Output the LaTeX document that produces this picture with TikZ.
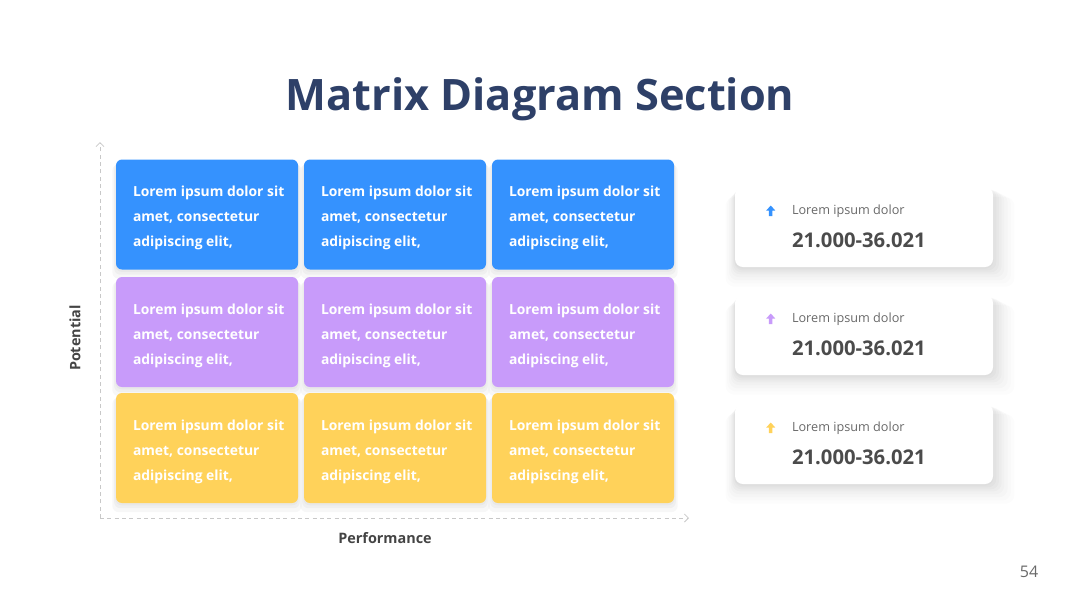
\documentclass[tikz,border=0pt]{standalone}
\usepackage{fontspec}
\setmainfont{Open Sans}
\usetikzlibrary{arrows.meta,shadows,calc}
\definecolor{cblue}{RGB}{53,146,254}
\definecolor{cpurple}{RGB}{200,155,250}
\definecolor{cyellow}{RGB}{255,210,90}
\definecolor{navy}{RGB}{46,64,104}
\definecolor{axisgray}{RGB}{200,200,200}
\definecolor{labgray}{RGB}{68,68,68}
\definecolor{cardlab}{RGB}{105,105,105}
\definecolor{cardnum}{RGB}{75,75,75}
\begin{document}
\begin{tikzpicture}[x=0.75pt,y=-0.75pt,
  cell/.style={rounded corners=4.5pt, minimum width=136.5pt, minimum height=82.5pt, inner sep=0pt,
    general shadow={fill=black, opacity=0.03, shadow yshift=-5pt, shadow scale=1.04},
    general shadow={fill=black, opacity=0.03, shadow yshift=-3pt, shadow scale=1.02},
    general shadow={fill=black, opacity=0.03, shadow yshift=-1.5pt, shadow scale=1.005}},
  celltext/.style={anchor=west, align=left, text=white, inner sep=0pt,
    font=\fontsize{10.4pt}{18.75pt}\selectfont\bfseries},
  card/.style={fill=white, rounded corners=6pt, minimum width=193.5pt, minimum height=60pt, inner sep=0pt,
    general shadow={fill=black, opacity=0.010, shadow xshift=4pt, shadow yshift=-10pt, shadow scale=1.12},
    general shadow={fill=black, opacity=0.012, shadow xshift=3.5pt, shadow yshift=-8.5pt, shadow scale=1.10},
    general shadow={fill=black, opacity=0.014, shadow xshift=3pt, shadow yshift=-7pt, shadow scale=1.08},
    general shadow={fill=black, opacity=0.016, shadow xshift=2.5pt, shadow yshift=-5.5pt, shadow scale=1.06},
    general shadow={fill=black, opacity=0.018, shadow xshift=2pt, shadow yshift=-4pt, shadow scale=1.045},
    general shadow={fill=black, opacity=0.02, shadow xshift=1.5pt, shadow yshift=-3pt, shadow scale=1.03},
    general shadow={fill=black, opacity=0.02, shadow xshift=1pt, shadow yshift=-2pt, shadow scale=1.015},
    general shadow={fill=black, opacity=0.02, shadow xshift=0pt, shadow yshift=-1pt, shadow scale=1.005}},
  cardlabel/.style={anchor=west, inner sep=0pt, text=cardlab, font=\fontsize{9.5pt}{11pt}\selectfont},
  cardnumber/.style={anchor=west, inner sep=0pt, text=cardnum, font=\fontsize{15.2pt}{17pt}\selectfont\bfseries},
  axis/.style={draw=axisgray, line width=0.6pt, dash pattern=on 3pt off 2.5pt, -{Straight Barb[length=3pt,width=6pt]}},
  axislabel/.style={inner sep=0pt, text=labgray, font=\fontsize{10.8pt}{13pt}\selectfont\bfseries}
]
\useasboundingbox (0,0) rectangle (1080,608);

% title
\node[text=navy, font=\fontsize{32.5pt}{40pt}\selectfont\bfseries] (title) at (540,99) {Matrix Diagram Section};

% axes
\coordinate (o) at (100,518);
\coordinate (ytop) at (100,142);
\coordinate (xend) at (689,518);
\draw[axis] (o) -- (ytop);
\draw[axis] (o) -- (xend);
\node[axislabel, rotate=90] (ylab) at (75,338) {Potential};
\node[axislabel] (xlab) at (385,538) {Performance};

% cells
\foreach \r/\y/\col in {1/214.5/cblue, 2/332/cpurple, 3/448/cyellow}{
  \foreach \c/\x in {1/207, 2/395, 3/583}{
    \node[cell, fill=\col] (c\r\c) at (\x,\y) {};
    \node[celltext] (t\r\c) at ([xshift=12.75pt, yshift=-2.7pt]c\r\c.west) {Lorem ipsum dolor sit\\amet, consectetur\\adipiscing elit,};
  }
}

% cards
\foreach \i/\y/\col in {1/227/cblue, 2/335/cpurple, 3/444/cyellow}{
  \node[card] (k\i) at (864,\y) {};
  \coordinate (a\i) at ($(k\i.west)+(36,-16)$);
  \fill[\col] (a\i) ++(0,-5.5) -- ++(4.5,5) -- ++(-2.75,0) -- ++(0,5.5) -- ++(-3.5,0) -- ++(0,-5.5) -- ++(-2.75,0) -- cycle;
  \node[cardlabel] (l\i) at ($(k\i.west)+(57,-16)$) {Lorem ipsum dolor};
  \node[cardnumber] (n\i) at ($(k\i.west)+(57,13.5)$) {21.000-36.021};
}

% page number
\node[text=cardlab, font=\fontsize{12pt}{14pt}\selectfont] (page) at (1029,572) {54};
\end{tikzpicture}
\end{document}
